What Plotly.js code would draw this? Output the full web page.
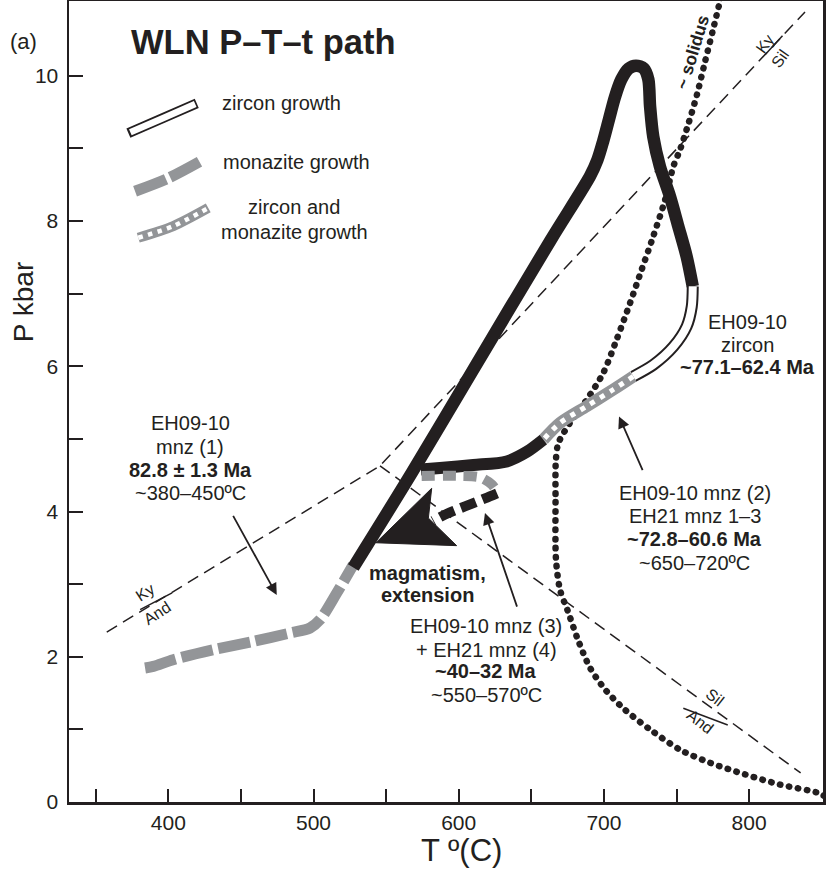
<!DOCTYPE html>
<html>
<head>
<meta charset="utf-8">
<script src="https://cdn.plot.ly/plotly-3.0.1.min.js"></script>
<style>
  html, body { margin:0; padding:0; background:#fff; }
  #chart { width:826px; height:870px; }
</style>
</head>
<body>
<div id="chart"></div>
<script>
// ---------- axis ticks ----------
const xTickVals = [350, 400, 450, 500, 550, 600, 650, 700, 750, 800];
const xTickText = ['', '400', '', '500', '', '600', '', '700', '', '800'];
const yTickVals = [0, 1, 2, 3, 4, 5, 6, 7, 8, 9, 10];
const yTickText = ['0', '', '2', '', '4', '', '6', '', '8', '', '10'];

// ---------- Al2SiO5 reaction lines (T °C, P kbar) ----------
const kyAndSilT = [357.6, 545.8, 838.5];   // Ky/And then Ky/Sil
const kyAndSilP = [2.34, 4.63, 10.88];
const silAndT = [545.8, 835.5];
const silAndP = [4.63, 0.40];

// ---------- wet solidus ----------
const solidusT = [780.6, 775.1, 769.6, 764.1, 757.9, 752.4, 747.8, 742.1, 734.0, 726.0, 718.0, 708.8, 699.6, 688.2, 676.6, 668.6,
                  666.9, 666.7, 667.0, 669.8, 675.3, 682.2, 690.4, 700.8, 714.5, 731.7, 752.4, 773.1, 797.2, 821.3, 846.8, 853.0];
const solidusP = [11.08, 10.63, 10.19, 9.74, 9.32, 8.98, 8.75, 8.29, 7.79, 7.33, 6.87, 6.37, 5.91, 5.54, 5.22, 4.94,
                  4.70, 4.16, 3.34, 2.92, 2.62, 2.23, 1.85, 1.55, 1.27, 1.00, 0.72, 0.54, 0.38, 0.24, 0.13, 0.07];

// ---------- P-T-t path segments ----------
const mnz1T = [384.0, 389.7, 403.4, 431.0, 458.5, 483.8, 497.6, 504.5, 516.0, 527.4];
const mnz1P = [1.845, 1.867, 1.960, 2.097, 2.211, 2.327, 2.396, 2.510, 2.878, 3.267];

const mainT = [527.4, 567.6, 608.7, 663.4, 690.5, 695.5, 699.5, 703.5, 707.5, 712.0, 717.0, 722.1, 727.5, 730.6,
               731.8, 734.0, 738.6, 745.5, 751.2, 757.0, 761.2];
const mainP = [3.23, 4.53, 5.91, 7.74, 8.62, 8.84, 9.10, 9.40, 9.70, 9.95, 10.10, 10.14, 10.10, 9.95,
               9.58, 9.16, 8.75, 8.34, 7.93, 7.51, 7.10];

const zrnT = [761.2, 760.5, 757.0, 747.8, 734.0, 720.2];
const zrnP = [7.10, 6.82, 6.55, 6.27, 6.02, 5.86];

const zrnMnzT = [720.2, 706.5, 688.2, 669.8, 658.3];
const zrnMnzP = [5.86, 5.68, 5.45, 5.22, 4.99];

const lowT = [658.3, 646.8, 633.1, 610.1, 587.1, 574.0];
const lowP = [4.99, 4.82, 4.69, 4.64, 4.60, 4.58];

const mnz3GreyT = [574.5, 600.9, 614.7, 622.9, 626.4];
const mnz3GreyP = [4.49, 4.49, 4.47, 4.37, 4.27];
const mnz3BlackT = [626.4, 618.1, 604.3, 591.9, 582.3];
const mnz3BlackP = [4.25, 4.18, 4.07, 3.97, 3.87];

// big arrowhead "magmatism, extension" (tip, top barb, notch, lower barb)
const arrowHeadT = [543.0, 581.4, 579.1, 598.6, 543.0];
const arrowHeadP = [3.57, 4.32, 3.91, 3.53, 3.57];

// ---------- legend samples ----------
const legZrnT = [372.5, 396.6, 419.6];
const legZrnP = [9.21, 9.42, 9.62];
const legMnzT = [377.1, 400.0, 421.8];
const legMnzP = [8.41, 8.59, 8.82];
const legBothT = [379.3, 403.4, 427.5];
const legBothP = [7.77, 7.93, 8.18];

// ---------- pointer arrows [headT, headP, tailT, tailP] ----------
const pointerArrows = [
  [474.7, 2.85, 444.1, 3.96],
  [710.4, 5.31, 727.1, 4.55],
  [618.1, 3.98, 640.5, 2.67]
];

// ---------- text labels: [T of centre, P of each line, lines] ----------
const labelMnz1 = {t: 415.0, p: [5.222, 4.892, 4.575, 4.258],
                   lines: ['EH09-10', 'mnz (1)', '<b>82.8 ± 1.3 Ma</b>', '~380–450ºC']};
const labelZrn = {t: 799.2, p: [6.615, 6.299, 5.996],
                  lines: ['EH09-10', 'zircon', '<b>~77.1–62.4 Ma</b>']};
const labelMnz2 = {t: 762.6, p: [4.254, 3.932, 3.621, 3.291],
                   lines: ['EH09-10 mnz (2)', 'EH21 mnz 1–3', '<b>~72.8–60.6 Ma</b>', '~650–720ºC']};
const labelMnz3 = {t: 618.8, p: [2.418, 2.097, 1.798, 1.477],
                   lines: ['EH09-10 mnz (3)', '+ EH21 mnz (4)', '<b>~40–32 Ma</b>', '~550–570ºC']};
const labelMagma = {t: 578.3, p: [3.157, 2.854], lines: ['<b>magmatism,</b>', '<b>extension</b>']};
const labelLegBoth = {t: 486.6, p: [8.191, 7.847], lines: ['zircon and', 'monazite growth']};
const legendTexts = ['zircon growth', 'monazite growth'];

const INK = '#231f20';
const GREY = '#939598';

function line(x, y, width, color, dash, shape) {
  return {x: x, y: y, type: 'scatter', mode: 'lines', hoverinfo: 'skip',
          line: {width: width, color: color, dash: dash || 'solid', shape: shape || 'linear', smoothing: 0.8}};
}

const traces = [
  line(kyAndSilT, kyAndSilP, 1.5, INK, '12px,7px'),
  line(silAndT, silAndP, 1.5, INK, '12px,7px'),
  line(solidusT, solidusP, 6.5, INK, '0.5px,8.6px', 'spline'),    // index 2 -> round caps
  line(mnz1T, mnz1P, 11, GREY, '32px,6px', 'spline'),
  line(mainT, mainP, 12.5, INK, 'solid', 'spline'),
  line(zrnT, zrnP, 12, INK, 'solid', 'spline'),
  line(zrnT, zrnP, 8, '#ffffff', 'solid', 'spline'),
  line(zrnMnzT, zrnMnzP, 12, GREY, 'solid', 'spline'),
  line(zrnMnzT, zrnMnzP, 5, '#ffffff', '5px,6.5px', 'spline'),
  line(lowT, lowP, 12, INK, 'solid', 'spline'),
  line(mnz3GreyT, mnz3GreyP, 10, GREY, '13px,8px', 'spline'),
  line(mnz3BlackT, mnz3BlackP, 10, INK, '16px,7px', 'spline'),
  {x: arrowHeadT, y: arrowHeadP, type: 'scatter', mode: 'lines', fill: 'toself', fillcolor: INK,
   line: {width: 1, color: INK}, hoverinfo: 'skip'},
  line(legZrnT, legZrnP, 10, INK, 'solid', 'spline'),
  line(legZrnT, legZrnP, 6.5, '#ffffff', '0px,2px,71px,200px', 'spline'),
  line(legMnzT, legMnzP, 11, GREY, '33px,5px', 'spline'),
  line(legBothT, legBothP, 10, GREY, 'solid', 'spline'),
  line(legBothT, legBothP, 4.5, '#ffffff', '4.5px,5.5px', 'spline')
];

const txt = {family: 'Liberation Sans, Arial, sans-serif', color: INK};
function ann(x, y, text, size, extra) {
  return Object.assign({x: x, y: y, xref: 'x', yref: 'y', text: text, showarrow: false,
                        xanchor: 'center', yanchor: 'middle',
                        font: Object.assign({}, txt, {size: size})}, extra || {});
}
function paperAnn(x, y, text, size, extra) {
  return Object.assign({x: x, y: y, xref: 'paper', yref: 'paper', text: text, showarrow: false,
                        xanchor: 'center', yanchor: 'middle',
                        font: Object.assign({}, txt, {size: size})}, extra || {});
}

const annotations = [
  ann(465.6, 10.47, '<b>WLN P–T–t path</b>', 34.5),
  paperAnn(-0.0597, 0.949, '(a)', 22),
  paperAnn(-0.061, 0.624, 'P kbar', 28, {textangle: -90}),
  paperAnn(0.521, -0.060, 'T º(C)', 31),
  ann(435.6, 9.63, legendTexts[0], 20, {xanchor: 'left'}),
  ann(436.4, 8.81, legendTexts[1], 20, {xanchor: 'left'}),
  ann(761.0, 10.33, '<b>~ solidus</b>', 17.5, {textangle: -73}),
  ann(384.0, 2.88, 'Ky', 16, {textangle: -33}),
  ann(392.0, 2.60, 'And', 16, {textangle: -33}),
  ann(810.9, 10.45, 'Ky', 16, {textangle: -55}),
  ann(821.4, 10.24, 'Sil', 16, {textangle: -55}),
  ann(776.5, 1.44, 'Sil', 16, {textangle: 38}),
  ann(766.1, 1.11, 'And', 16, {textangle: 38})
];

[labelMnz1, labelZrn, labelMnz2, labelMnz3, labelLegBoth].forEach(function (b) {
  b.lines.forEach(function (s, i) { annotations.push(ann(b.t, b.p[i], s, 20)); });
});
labelMagma.lines.forEach(function (s, i) { annotations.push(ann(labelMagma.t, labelMagma.p[i], s, 20)); });

pointerArrows.forEach(function (a) {
  annotations.push({x: a[0], y: a[1], ax: a[2], ay: a[3], xref: 'x', yref: 'y', axref: 'x', ayref: 'y',
                    text: '', showarrow: true, arrowhead: 2, arrowsize: 1.3, arrowwidth: 1.8, arrowcolor: INK});
});

// small fraction bars of the reaction labels
const shapes = [
  {type: 'line', xref: 'x', yref: 'y', x0: 380.6, y0: 2.65, x1: 402.6, y1: 2.88, line: {color: INK, width: 1.5}},
  {type: 'line', xref: 'x', yref: 'y', x0: 811, y0: 10.29, x1: 823, y1: 10.55, line: {color: INK, width: 1.5}},
  {type: 'line', xref: 'x', yref: 'y', x0: 754.7, y0: 1.29, x1: 785.3, y1: 1.06, line: {color: INK, width: 1.5}}
];

const axisCommon = {
  showline: true, linewidth: 2.5, linecolor: INK, mirror: true,
  showgrid: false, zeroline: false, ticks: 'inside', tickwidth: 2, tickcolor: INK,
  tickmode: 'array', tickfont: Object.assign({}, txt, {size: 21}), fixedrange: true
};

const layout = {
  width: 826, height: 870,
  margin: {l: 69, r: 3, t: 1, b: 68, pad: 0},
  paper_bgcolor: '#ffffff', plot_bgcolor: '#ffffff',
  showlegend: false,
  font: txt,
  xaxis: Object.assign({}, axisCommon, {range: [331.6, 850.9], tickvals: xTickVals, ticktext: xTickText,
                                        ticklen: 13, ticklabelstandoff: 0}),
  yaxis: Object.assign({}, axisCommon, {range: [0, 11.03], tickvals: yTickVals, ticktext: yTickText,
                                        ticklen: 14, ticklabelstandoff: 4}),
  annotations: annotations,
  shapes: shapes
};

Plotly.newPlot('chart', traces, layout, {staticPlot: true, displayModeBar: false}).then(function (gd) {
  const tr = gd.querySelectorAll('.scatterlayer .trace');
  tr.forEach(function (t) {
    t.querySelectorAll('.js-line').forEach(function (p) { p.style.strokeLinejoin = 'round'; });
  });
  if (tr[2]) tr[2].querySelectorAll('.js-line').forEach(function (p) { p.style.strokeLinecap = 'round'; });
});
</script>
</body>
</html>
